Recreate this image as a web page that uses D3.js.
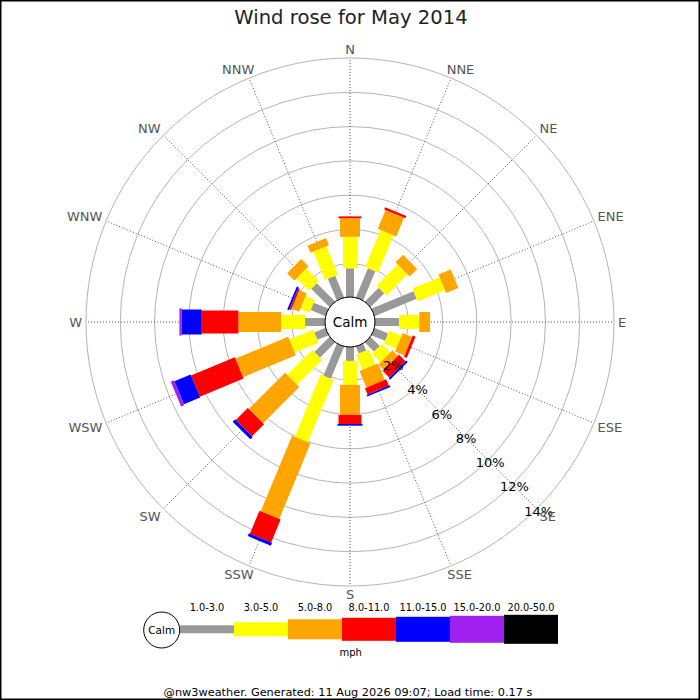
<!DOCTYPE html>
<html>
<head>
<meta charset="utf-8">
<script src="https://cdn.jsdelivr.net/npm/d3@7/dist/d3.min.js"></script>
<style>
  html, body { margin: 0; padding: 0; background: #fff; }
  svg { display: block; font-family: "DejaVu Sans", sans-serif; }
</style>
</head>
<body>
<svg id="chart" width="700" height="700"></svg>
<script>
// ---------------- DATA ----------------
const titleText = "Wind rose for May 2014";
const directions = ["N","NNE","NE","ENE","E","ESE","SE","SSE","S","SSW","SW","WSW","W","WNW","NW","NNW"];
const speedClasses = ["1.0-3.0","3.0-5.0","5.0-8.0","8.0-11.0","11.0-15.0","15.0-20.0","20.0-50.0"];
// percentage of time per direction for each speed class
const spd1to3   = [1.73, 1.90, 1.20, 2.71, 1.47, 0.91, 0.82, 0.50, 0.87, 2.09, 1.31, 0.76, 1.22, 0.99, 1.57, 1.42];
const spd3to5   = [1.84, 2.34, 1.74, 1.72, 1.17, 0.78, 0.70, 0.96, 1.40, 3.93, 2.06, 1.50, 1.40, 0.58, 1.04, 1.79];
const spd5to8   = [1.08, 1.19, 0.62, 0.77, 0.63, 0.60, 0.46, 1.04, 1.75, 4.77, 2.99, 3.34, 2.49, 0.47, 0.60, 0.45];
const spd8to11  = [0.11, 0.14, 0.00, 0.00, 0.00, 0.17, 0.53, 0.40, 0.53, 1.45, 0.99, 2.76, 2.14, 0.10, 0.00, 0.00];
const spd11to15 = [0.00, 0.00, 0.00, 0.00, 0.00, 0.00, 0.12, 0.10, 0.10, 0.18, 0.20, 1.03, 1.16, 0.12, 0.00, 0.00];
const spd15to20 = [0.00, 0.00, 0.00, 0.00, 0.00, 0.00, 0.00, 0.00, 0.00, 0.00, 0.00, 0.20, 0.14, 0.00, 0.00, 0.00];
const spd20to50 = [0.00, 0.00, 0.00, 0.00, 0.00, 0.00, 0.00, 0.00, 0.00, 0.00, 0.00, 0.00, 0.00, 0.00, 0.00, 0.00];
const ringTicks = [2, 4, 6, 8, 10, 12, 14];
const tickLabels = ["2%", "4%", "6%", "8%", "10%", "12%", "14%"];
const unitLabel = "mph";
const calmLabel = "Calm";
const footerText = "@nw3weather. Generated: 11 Aug 2026 09:07; Load time: 0.17 s";

// ---------------- STYLE ----------------
const classColors = ["#999999", "#ffff00", "#ffa500", "#ff0000", "#0000ff", "#a020f0", "#000000"];
const classWidths = [8, 14, 20, 23, 25, 27, 29];

// ---------------- BUILD ----------------
const series = [spd1to3, spd3to5, spd5to8, spd8to11, spd11to15, spd15to20, spd20to50];
const keys = speedClasses;
const rows = directions.map((d, i) => {
  const o = { dir: d };
  keys.forEach((k, j) => o[k] = series[j][i]);
  return o;
});
const stacked = d3.stack().keys(keys)(rows);

const svg = d3.select("#chart");
const W = 700, H = 700;
const cx = 350, cy = 322;
const calmR = 25;

const r = d3.scaleLinear().domain([0, 14]).range([24, 264]);
const angle = d3.scaleBand().domain(directions).range([0, 360]);

svg.append("rect").attr("x", 0).attr("y", 0).attr("width", W).attr("height", H).attr("fill", "#fff");

// title
svg.append("text")
  .attr("x", 351).attr("y", 23.5)
  .attr("text-anchor", "middle")
  .attr("font-size", 19.6)
  .attr("fill", "#222")
  .text(titleText);

const g = svg.append("g").attr("transform", `translate(${cx},${cy})`);

// rings
g.selectAll("circle.ring").data(ringTicks).join("circle")
  .attr("class", "ring")
  .attr("r", d => r(d))
  .attr("fill", "none")
  .attr("stroke", "#b4b4b4")
  .attr("stroke-width", 1);

// radial dotted axes
g.selectAll("line.axis").data(directions).join("line")
  .attr("class", "axis")
  .attr("x1", 0).attr("y1", 0)
  .attr("x2", d => r(14) * Math.sin(angle(d) * Math.PI / 180))
  .attr("y2", d => -r(14) * Math.cos(angle(d) * Math.PI / 180))
  .attr("stroke", "#555")
  .attr("stroke-width", 1)
  .attr("stroke-dasharray", "1,2");

// bars
stacked.forEach((layer, j) => {
  const lg = g.append("g");
  lg.selectAll("rect").data(layer.filter(p => p[1] - p[0] > 0)).join("rect")
    .attr("transform", p => `rotate(${angle(p.data.dir)})`)
    .attr("x", -classWidths[j] / 2)
    .attr("width", classWidths[j])
    .attr("y", p => -r(p[1]))
    .attr("height", p => r(p[1]) - r(p[0]))
    .attr("fill", classColors[j]);
});

// calm circle
g.append("circle").attr("r", calmR).attr("fill", "#fff").attr("stroke", "#000").attr("stroke-width", 1);
g.append("text").attr("x", 0).attr("y", 5).attr("text-anchor", "middle")
  .attr("font-size", 13.5).attr("fill", "#000").text(calmLabel);

// percentage labels along SE axis
const a135 = 135 * Math.PI / 180;
g.selectAll("text.pct").data(ringTicks).join("text")
  .attr("class", "pct")
  .attr("x", d => r(d) * Math.sin(a135) + 2)
  .attr("y", d => -r(d) * Math.cos(a135) + 7)
  .attr("text-anchor", "middle")
  .attr("font-size", 13)
  .attr("fill", "#000")
  .text((d, i) => tickLabels[i]);

// compass labels
const clamp = v => Math.max(-1, Math.min(1, v));
const capH = 0.729 * 13;
g.selectAll("text.dir").data(directions).join("text")
  .attr("class", "dir")
  .attr("text-anchor", "middle")
  .attr("font-size", 13)
  .attr("fill", "#555")
  .text(d => d)
  .each(function (d) {
    const a = angle(d) * Math.PI / 180;
    const R = r(14) + 4;
    const px = R * Math.sin(a), py = -R * Math.cos(a);
    const w = this.getComputedTextLength();
    const sx = Math.abs(Math.sin(a)) < 1e-6 ? 0 : Math.sin(a);
    const cyv = Math.abs(Math.cos(a)) < 1e-6 ? 0 : Math.cos(a);
    const x = px + (w / 2) * clamp(1.5 * sx);
    const yc = py - (capH / 2) * clamp(1.5 * cyv);
    d3.select(this).attr("x", x).attr("y", yc + capH / 2);
  });

// legend
const legY = 629.3;
const legX = d3.scaleLinear().domain([0, speedClasses.length]).range([180, 180 + 54 * speedClasses.length]);
const leg = svg.append("g");
leg.append("circle").attr("cx", 161.7).attr("cy", 630).attr("r", 18)
  .attr("fill", "#fff").attr("stroke", "#000").attr("stroke-width", 1);
leg.append("text").attr("x", 161.7).attr("y", 634).attr("text-anchor", "middle")
  .attr("font-size", 10.5).attr("fill", "#000").text(calmLabel);
leg.selectAll("rect.seg").data(speedClasses).join("rect")
  .attr("class", "seg")
  .attr("x", (d, i) => legX(i))
  .attr("width", (d, i) => legX(i + 1) - legX(i))
  .attr("y", (d, i) => legY - classWidths[i] / 2)
  .attr("height", (d, i) => classWidths[i])
  .attr("fill", (d, i) => classColors[i]);
leg.selectAll("text.seglab").data(speedClasses).join("text")
  .attr("class", "seglab")
  .attr("x", (d, i) => (legX(i) + legX(i + 1)) / 2)
  .attr("y", 610.5)
  .attr("text-anchor", "middle")
  .attr("font-size", 9.8)
  .attr("fill", "#000")
  .text(d => d);
leg.append("text").attr("x", 350.7).attr("y", 656).attr("text-anchor", "middle")
  .attr("font-size", 10).attr("fill", "#000").text(unitLabel);

// footer
svg.append("text").attr("x", 348).attr("y", 695.5).attr("text-anchor", "middle")
  .attr("font-size", 11.3).attr("fill", "#000").text(footerText);

// frame
svg.append("rect").attr("x", 0.75).attr("y", 0.75).attr("width", W - 1.5).attr("height", H - 1.5)
  .attr("fill", "none").attr("stroke", "#000").attr("stroke-width", 1.5);
</script>
</body>
</html>
